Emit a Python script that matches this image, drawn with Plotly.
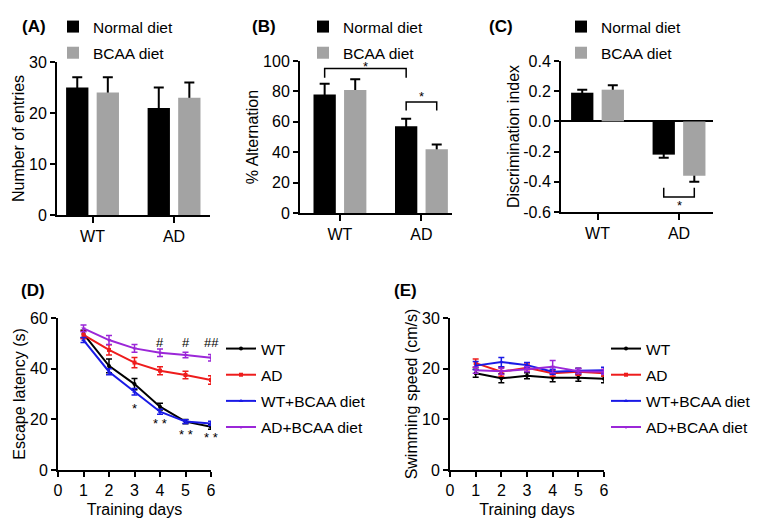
import plotly.graph_objects as go

# ---- data ----
groups = ["WT", "AD"]
diets = ["Normal diet", "BCAA diet"]

# (A) Y-maze number of entries
entries_normal = [25, 21]
entries_normal_err = [2, 4]
entries_bcaa = [24, 23]
entries_bcaa_err = [3, 3]

# (B) spontaneous alternation
alt_normal = [78, 57]
alt_normal_err = [7, 5]
alt_bcaa = [81, 42]
alt_bcaa_err = [7, 3]

# (C) novel object discrimination index
disc_normal = [0.19, -0.22]
disc_normal_err = [0.02, 0.02]
disc_bcaa = [0.21, -0.36]
disc_bcaa_err = [0.03, 0.04]
disc_ticks = [0.4, 0.2, 0.0, -0.2, -0.4, -0.6]
disc_ticktext = ["0.4", "0.2", "0.0", "-0.2", "-0.4", "-0.6"]

# (D) Morris water maze escape latency, (E) swimming speed
days = [1, 2, 3, 4, 5, 6]
mwm_groups = ["WT", "AD", "WT+BCAA diet", "AD+BCAA diet"]
latency = {
    "WT": [53.7, 41.1, 33.9, 25.0, 19.1, 17.1],
    "AD": [53.3, 47.4, 42.4, 39.2, 37.5, 35.5],
    "WT+BCAA diet": [51.3, 38.8, 30.9, 23.0, 19.1, 18.4],
    "AD+BCAA diet": [55.9, 51.3, 48.0, 46.3, 45.4, 44.3],
}
latency_err = {
    "WT": [1.5, 2.7, 2.2, 1.3, 0.8, 1.0],
    "AD": [1.5, 2.0, 2.0, 1.6, 1.5, 1.7],
    "WT+BCAA diet": [1.0, 1.2, 1.3, 1.0, 0.7, 0.8],
    "AD+BCAA diet": [1.3, 1.8, 1.5, 1.5, 1.1, 1.3],
}
speed = {
    "WT": [19.1, 18.1, 18.6, 18.2, 18.2, 18.0],
    "AD": [21.1, 19.4, 20.2, 19.1, 19.4, 19.1],
    "WT+BCAA diet": [20.6, 21.3, 20.7, 19.4, 19.6, 19.7],
    "AD+BCAA diet": [19.7, 19.5, 19.9, 20.4, 19.5, 19.4],
}
speed_err = {
    "WT": [0.8, 0.9, 0.6, 0.8, 0.7, 0.8],
    "AD": [0.8, 0.9, 0.7, 0.6, 0.7, 0.6],
    "WT+BCAA diet": [0.8, 0.9, 0.5, 0.5, 0.5, 0.6],
    "AD+BCAA diet": [0.6, 0.6, 0.5, 1.2, 0.5, 0.5],
}
mwm_colors = {"WT": "#000000", "AD": "#ee1c1c", "WT+BCAA diet": "#1a1ae6", "AD+BCAA diet": "#9b27d8"}
mwm_symbols = {"WT": "circle", "AD": "square", "WT+BCAA diet": "triangle-up", "AD+BCAA diet": "triangle-down"}

# ---- layout helpers ----
# the page body keeps its default 8px margin, so the figure is shrunk by that
PAGE_W, PAGE_H, PAD = 761, 519, 8
W, H = PAGE_W - PAD, PAGE_H - PAD
FONT = "Liberation Sans, Arial, sans-serif"
BLACK, GRAY = "#000000", "#a3a3a3"
TICK = dict(size=16, family=FONT, color="black")
TITLE = dict(size=16, family=FONT, color="black")


def px_x(v):
    return (v - PAD) / W


def px_y(v):
    return 1 - (v - PAD) / H


def axis(left, right, **kw):
    d = dict(domain=[px_x(left), px_x(right)], showline=True, linecolor="black", linewidth=2,
             ticks="outside", ticklen=5, tickwidth=2, tickcolor="black", showgrid=False,
             zeroline=False, tickfont=TICK)
    d.update(kw)
    return d


def yaxis(top, bottom, title, **kw):
    d = dict(domain=[px_y(bottom), px_y(top)], showline=True, linecolor="black", linewidth=2,
             ticks="outside", ticklen=5, tickwidth=2, tickcolor="black", showgrid=False,
             zeroline=False, tickfont=TICK,
             title=dict(text=title, font=TITLE, standoff=0))
    d.update(kw)
    return d


fig = go.Figure()

BARGAP = 0.25
OFF = (1 - BARGAP) / 4  # centre offset of each bar inside its group

bar_panels = [
    ("x", "y", "legend", entries_normal, entries_normal_err, entries_bcaa, entries_bcaa_err),
    ("x2", "y2", "legend2", alt_normal, alt_normal_err, alt_bcaa, alt_bcaa_err),
    ("x3", "y3", "legend3", disc_normal, disc_normal_err, disc_bcaa, disc_bcaa_err),
]
for xa, ya, lg, n, ne, b, be in bar_panels:
    # invisible carriers for the error bars, drawn under the real bars
    for name, vals, errs in [("n", n, ne), ("b", b, be)]:
        fig.add_trace(go.Bar(x=groups, y=vals, offsetgroup=name, xaxis=xa, yaxis=ya,
                             marker=dict(color="rgba(0,0,0,0)", line=dict(width=0)),
                             error_y=dict(type="data", array=errs, color="black", thickness=2, width=5),
                             showlegend=False, hoverinfo="skip"))
    for name, vals, col, dn in [("n", n, BLACK, diets[0]), ("b", b, GRAY, diets[1])]:
        fig.add_trace(go.Bar(x=groups, y=vals, offsetgroup=name, xaxis=xa, yaxis=ya, name=dn,
                             marker=dict(color=col, line=dict(width=0)), legend=lg,
                             legendgroup=lg + name))

for data, err, xa, ya, lg in [(latency, latency_err, "x4", "y4", "legend4"),
                              (speed, speed_err, "x5", "y5", "legend5")]:
    for g in mwm_groups:
        fig.add_trace(go.Scatter(x=days, y=data[g], xaxis=xa, yaxis=ya, name=g, legend=lg,
                                 legendgroup=lg + g, mode="lines+markers",
                                 line=dict(color=mwm_colors[g], width=2),
                                 marker=dict(color=mwm_colors[g], size=4, symbol=mwm_symbols[g]),
                                 error_y=dict(type="data", array=err[g], color=mwm_colors[g],
                                              thickness=1.5, width=3)))

layout = dict(
    width=W, height=H, margin=dict(l=0, r=0, t=0, b=0, autoexpand=False),
    paper_bgcolor="white", plot_bgcolor="white",
    font=dict(family=FONT, size=15, color="black"),
    barmode="group", bargap=BARGAP, bargroupgap=0.27,
    xaxis=axis(57, 210, anchor="y", range=[-0.436, 1.441], ticklen=6),
    yaxis=yaxis(62, 215, "Number of entries", anchor="x", range=[0, 30], dtick=10),
    xaxis2=axis(300, 452, anchor="y2", range=[-0.49, 1.375], ticklen=6),
    yaxis2=yaxis(61, 213, "% Alternation", anchor="x2", range=[0, 100], dtick=20),
    xaxis3=axis(561, 713, anchor="y3", range=[-0.448, 1.417], ticklen=6),
    yaxis3=yaxis(61, 212, "Discrimination index", anchor="x3", range=[-0.6, 0.4],
                 tickvals=disc_ticks, ticktext=disc_ticktext,
                 zeroline=True, zerolinecolor="black", zerolinewidth=2),
    xaxis4=axis(58, 211, anchor="y4", range=[0, 6], dtick=1,
                title=dict(text="Training days", font=TITLE, standoff=6)),
    yaxis4=yaxis(318, 470, "Escape latency (s)", anchor="x4", range=[0, 60], dtick=20),
    xaxis5=axis(450, 604, anchor="y5", range=[0, 6], dtick=1,
                title=dict(text="Training days", font=TITLE, standoff=6)),
    yaxis5=yaxis(318, 470, "Swimming speed (cm/s)", anchor="x5", range=[0, 30], dtick=10),
)

leg_common = dict(xanchor="left", yanchor="top", bgcolor="rgba(0,0,0,0)", borderwidth=0,
                  tracegroupgap=3, traceorder="grouped")
bar_leg_font = dict(size=15.5, family=FONT, color="black")
line_leg_font = dict(size=15.5, family=FONT, color="black")
layout["legend"] = dict(x=px_x(53), y=px_y(10), font=bar_leg_font, **leg_common)
layout["legend2"] = dict(x=px_x(303), y=px_y(10), font=bar_leg_font, **leg_common)
layout["legend3"] = dict(x=px_x(561), y=px_y(10), font=bar_leg_font, **leg_common)
layout["legend4"] = dict(x=px_x(221), y=px_y(332), font=line_leg_font, **leg_common)
layout["legend5"] = dict(x=px_x(606), y=px_y(332), font=line_leg_font, **leg_common)
fig.update_layout(**layout)

# ---- significance marks ----
shape_line = dict(color="black", width=1.5)


def bracket(xa, ya, x0, x1, y, yl0, yl1):
    path = f"M {x0},{yl0} L {x0},{y} L {x1},{y} L {x1},{yl1}"
    fig.add_shape(type="path", path=path, xref=xa, yref=ya, line=shape_line)


# (B) WT vs AD (normal diet), AD normal vs AD BCAA
bracket("x2", "y2", 0 - OFF, 1 - OFF, 95, 89, 89)
bracket("x2", "y2", 1 - OFF, 1 + OFF, 73, 67.5, 67.5)
# (C) AD normal vs AD BCAA
bracket("x3", "y3", 1 - OFF, 1 + OFF, -0.50, -0.44, -0.44)

star_font = dict(size=13, family=FONT, color="black")
notes = [
    ("x2", "y2", 0.5 - OFF, 96.2, "*"),
    ("x2", "y2", 1, 76.5, "*"),
    ("x3", "y3", 1, -0.555, "*"),
    ("x4", "y4", 3, 24.3, "*"),
    ("x4", "y4", 4, 18.2, "* *"),
    ("x4", "y4", 5, 14.0, "* *"),
    ("x4", "y4", 6, 13.0, "* *"),
    ("x4", "y4", 4, 50.3, "#"),
    ("x4", "y4", 5, 50.3, "#"),
    ("x4", "y4", 6, 50.3, "##"),
]
for xa, ya, x, y, t in notes:
    fig.add_annotation(x=x, y=y, xref=xa, yref=ya, text=t, showarrow=False, font=star_font)

# panel labels
for lab, cx, cy in [("(A)", 20, 15), ("(B)", 250, 15), ("(C)", 501, 15), ("(D)", 19, 290), ("(E)", 405, 290)]:
    fig.add_annotation(x=px_x(cx), y=px_y(cy), xref="paper", yref="paper", text=f"<b>{lab}</b>",
                       showarrow=False, font=dict(size=17, family=FONT, color="black"))

fig.write_html("out.html")
